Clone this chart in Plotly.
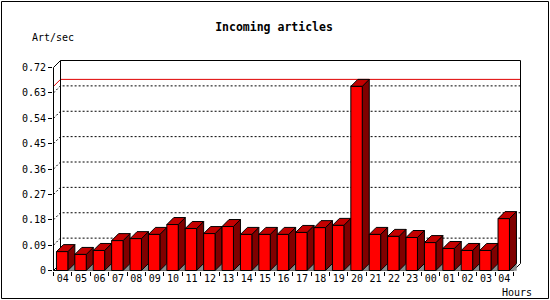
import plotly.graph_objects as go

# ---------------- data ----------------
hours = ["04", "05", "06", "07", "08", "09", "10", "11", "12", "13", "14", "15",
         "16", "17", "18", "19", "20", "21", "22", "23", "00", "01", "02", "03", "04"]
articles_per_sec = [0.067, 0.057, 0.071, 0.106, 0.113, 0.128, 0.163, 0.149, 0.131,
                    0.156, 0.128, 0.128, 0.128, 0.135, 0.152, 0.160, 0.653, 0.128,
                    0.121, 0.117, 0.099, 0.078, 0.071, 0.071, 0.184]
y_ticks = [0, 0.09, 0.18, 0.27, 0.36, 0.45, 0.54, 0.63, 0.72]
y_tick_labels = ["0", "0.09", "0.18", "0.27", "0.36", "0.45", "0.54", "0.63", "0.72"]
title_text = "Incoming articles"
y_label = "Art/sec"
x_label = "Hours"

# ---------------- layout geometry ----------------
W, H = 550, 300
n = len(hours)
PX_CAT = 18.4                     # pixels per category
PX_UNIT = 203 / 0.72              # pixels per value unit
DEPTH_PX = 7
D = DEPTH_PX / PX_CAT             # depth in x units
DY = DEPTH_PX / PX_UNIT           # depth in y units
PAD = 0.5
ML, MR, MT, MB = 53, 29, 60, 29
PW, PH = W - ML - MR, H - MT - MB
ymax = y_ticks[-1]

x_range = [-PAD / PX_CAT, n + D + PAD / PX_CAT]
y_range = [-PAD / PX_UNIT, ymax + DY + PAD / PX_UNIT]

FONT = "DejaVu Sans Mono"
FRONT, TOP, SIDE, FLOOR = "#ff0000", "#c40000", "#800000", "#8c8c8c"

BAR_L, BAR_R = 0.16, 0.78

fig = go.Figure()

# dotted grid on back wall + left wall
gx, gy = [], []
for v in y_ticks[1:-1]:
    gx += [0, D, n + D, None]
    gy += [v, v + DY, v + DY, None]
fig.add_trace(go.Scatter(x=gx, y=gy, mode="lines",
                         line=dict(color="black", width=1, dash="2px,2px"),
                         hoverinfo="skip", showlegend=False))

# max value line (red)
vmax = max(articles_per_sec)
fig.add_trace(go.Scatter(x=[0, D, n + D], y=[vmax, vmax + DY, vmax + DY], mode="lines",
                         line=dict(color="#e00000", width=1),
                         hoverinfo="skip", showlegend=False))

# frame lines (axes / walls)
fx = [0, 0, D, n + D, n + D, n, 0, None, D, D, None, 0, D]
fy = [0, ymax, ymax + DY, ymax + DY, DY, 0, 0, None, ymax + DY, DY, None, 0, DY]
fig.add_trace(go.Scatter(x=fx, y=fy, mode="lines",
                         line=dict(color="black", width=1),
                         hoverinfo="skip", showlegend=False))

# bars (3D faces)
fl_x, fl_y, fr_x, fr_y, tp_x, tp_y, sd_x, sd_y = [], [], [], [], [], [], [], []
for i, v in enumerate(articles_per_sec):
    xl, xr = i + BAR_L, i + BAR_R
    fl_x += [xr, xr + D, xr + D, xr, None]
    fl_y += [0, DY, 0, 0, None]
    fr_x += [xl, xr, xr, xl, xl, None]
    fr_y += [0, 0, v, v, 0, None]
    tp_x += [xl, xr, xr + D, xl + D, xl, None]
    tp_y += [v, v, v + DY, v + DY, v, None]
    sd_x += [xr, xr + D, xr + D, xr, xr, None]
    sd_y += [0, DY, v + DY, v, 0, None]

fig.add_trace(go.Scatter(x=fl_x, y=fl_y, mode="lines", fill="toself", fillcolor=FLOOR,
                         line=dict(color=FLOOR, width=0.5), hoverinfo="skip", showlegend=False))
for xs, ys, col in [(sd_x, sd_y, SIDE), (tp_x, tp_y, TOP), (fr_x, fr_y, FRONT)]:
    fig.add_trace(go.Scatter(x=xs, y=ys, mode="lines", fill="toself", fillcolor=col,
                             line=dict(color="black", width=1),
                             hoverinfo="skip", showlegend=False))

fig.update_layout(
    width=W, height=H, autosize=False,
    margin=dict(l=ML, r=MR, t=MT, b=MB, pad=0),
    paper_bgcolor="white", plot_bgcolor="white",
    showlegend=False,
    xaxis=dict(range=x_range, showgrid=False, zeroline=False, showline=False,
               tickmode="array", tickvals=[i + 0.5 for i in range(n)], ticktext=hours,
               ticks="", tickfont=dict(family=FONT, size=10, color="black"),
               minor=dict(tickmode="array", tickvals=list(range(n + 1)), ticks="outside",
                          ticklen=4, tickcolor="black", tickwidth=1),
               fixedrange=True),
    yaxis=dict(range=y_range, showgrid=False, zeroline=False, showline=False,
               tickmode="array", tickvals=y_ticks, ticktext=y_tick_labels,
               ticks="outside", ticklen=4, tickcolor="black", tickwidth=1,
               tickfont=dict(family=FONT, size=10, color="black"),
               fixedrange=True),
    title=dict(text="<b>" + title_text + "</b>", xref="container", yref="container",
               x=274 / W, y=1 - 27 / H, xanchor="center", yanchor="middle",
               font=dict(family=FONT, size=11.5, color="black")),
)

fig.add_annotation(text=y_label, xref="paper", yref="paper",
                   x=(30 - ML) / PW, y=1 + (MT - 37) / PH, xanchor="left", yanchor="middle",
                   showarrow=False, font=dict(family=FONT, size=10, color="black"))
fig.add_annotation(text=x_label, xref="paper", yref="paper",
                   x=(534 - ML) / PW, y=-(292 - (H - MB)) / PH, xanchor="right", yanchor="middle",
                   showarrow=False, font=dict(family=FONT, size=10, color="black"))

# outer image border
INSET = 1.5
fig.add_shape(type="rect", xref="paper", yref="paper",
              x0=(INSET - ML) / PW, x1=(W - INSET - ML) / PW,
              y0=-(MB - INSET) / PH, y1=1 + (MT - INSET) / PH,
              line=dict(color="black", width=1), fillcolor="rgba(0,0,0,0)")

fig.write_html("out.html")
